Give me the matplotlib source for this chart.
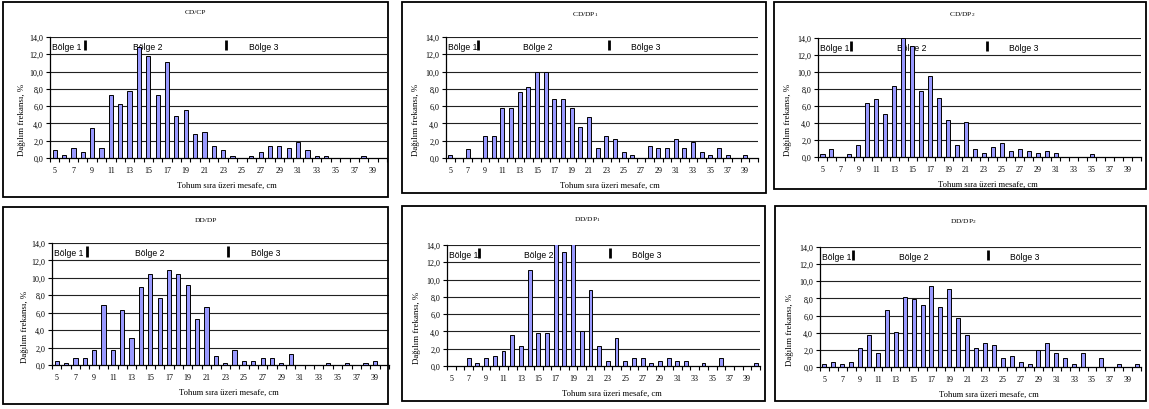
import matplotlib
matplotlib.use('Agg')
import matplotlib.pyplot as plt
from matplotlib.patches import Rectangle
from matplotlib.ticker import FixedLocator, FuncFormatter, NullFormatter

plt.rcParams['mathtext.fontset'] = 'custom'
plt.rcParams['mathtext.rm'] = 'Liberation Serif'
plt.rcParams['mathtext.it'] = 'Liberation Serif'

spacing_cm = list(range(5, 41))
tick_labels = [str(v) for v in range(5, 40, 2)]

cd_cp = [0.9, 0.4, 1.1, 0.7, 3.5, 1.1, 7.3, 6.3, 7.7, 12.9, 11.8, 7.3, 11.1, 4.9, 5.6, 2.8, 3.0, 1.4,
         0.9, 0.2, 0.0, 0.2, 0.7, 1.4, 1.4, 1.1, 1.8, 0.9, 0.2, 0.2, 0.0, 0.0, 0.0, 0.2, 0.0, 0.0]
cd_dp1 = [0.35, 0.0, 1.0, 0.0, 2.5, 2.5, 5.8, 5.8, 7.6, 8.2, 10.0, 10.0, 6.8, 6.8, 5.8, 3.6, 4.7, 1.1,
          2.5, 2.2, 0.75, 0.35, 0.0, 1.4, 1.1, 1.1, 2.2, 1.1, 1.8, 0.75, 0.35, 1.1, 0.35, 0.0, 0.35, 0.0]
cd_dp2 = [0.3, 1.0, 0.0, 0.3, 1.45, 6.3, 6.8, 5.1, 8.3, 14.0, 13.1, 7.8, 9.5, 7.0, 4.4, 1.45, 4.15, 1.0,
          0.5, 1.2, 1.7, 0.75, 1.0, 0.75, 0.5, 0.75, 0.5, 0.0, 0.0, 0.0, 0.3, 0.0, 0.0, 0.0, 0.0, 0.0]
dd_dp = [0.5, 0.2, 0.75, 0.75, 1.75, 6.9, 1.75, 6.35, 3.05, 8.9, 10.4, 7.65, 10.95, 10.4, 9.15, 5.3, 6.65, 1.0,
         0.2, 1.75, 0.5, 0.5, 0.75, 0.75, 0.2, 1.25, 0.0, 0.0, 0.0, 0.2, 0.0, 0.2, 0.0, 0.2, 0.5, 0.0]
dd_dp1 = [0.0, 0.0, 0.95, 0.3, 0.95, 1.2, 1.75, 3.55, 2.35, 11.15, 3.85, 3.85, 15.0, 13.2, 15.5, 4.05, 8.8, 2.35,
          0.6, 3.25, 0.6, 0.95, 0.95, 0.3, 0.6, 0.95, 0.6, 0.6, 0.0, 0.3, 0.0, 0.95, 0.0, 0.0, 0.0, 0.3]
dd_dp2 = [0.3, 0.6, 0.3, 0.6, 2.25, 3.7, 1.6, 6.65, 4.05, 8.2, 7.9, 7.25, 9.4, 6.95, 9.1, 5.7, 3.7, 2.25,
          2.8, 2.55, 1.0, 1.3, 0.6, 0.3, 1.95, 2.8, 1.6, 1.0, 0.3, 1.6, 0.0, 1.0, 0.0, 0.3, 0.0, 0.3]

titles = ['CD/CP', r'CD/DP$_{\mathregular{1}}$', r'CD/DP$_{\mathregular{2}}$',
          'DD/DP', r'DD/DP$_{\mathregular{1}}$', r'DD/DP$_{\mathregular{2}}$']
series = [cd_cp, cd_dp1, cd_dp2, dd_dp, dd_dp1, dd_dp2]
zone_labels = ['Bölge 1', 'Bölge 2', 'Bölge 3']
ylabel = 'Dağılım frekansı, %'
xlabel = 'Tohum sıra üzeri mesafe, cm'

W, H = 1149, 410
fig = plt.figure(figsize=(W / 100, H / 100), dpi=100)
fig.patch.set_facecolor('white')

# layout in pixels: box (x0, y0, x1, y1), axes (x0, ytop, x1, ybottom), title (x, y)
boxes = [(3, 3, 388, 198), (402, 3, 766, 194), (774, 3, 1146, 190),
         (3, 208, 388, 405), (402, 207, 765, 402), (775, 207, 1146, 402)]
axrects = [(50, 38, 387, 159), (446, 38, 758, 159), (818, 39, 1141, 158),
           (52, 244, 389, 366), (447, 246, 760, 367), (820, 248, 1141, 368)]
title_pos = [(195, 13), (585, 15), (962, 15), (206, 221), (587, 220), (963, 222)]
ylab_x = [22, 416, 788, 25, 417, 790]

serif = 'Liberation Serif'
sans = 'Liberation Sans'

def fx(x):
    return x / W

def fy(y):
    return 1 - y / H

for i in range(6):
    bx0, by0, bx1, by1 = boxes[i]
    fig.patches.append(Rectangle((fx(bx0), fy(by1)), fx(bx1 - bx0), (by1 - by0) / H,
                                 transform=fig.transFigure, fill=False, edgecolor='black',
                                 linewidth=1.3, zorder=0))
    ax0, ay0, ax1, ay1 = axrects[i]
    ax = fig.add_axes([fx(ax0), fy(ay1), fx(ax1 - ax0), (ay1 - ay0) / H])
    ax.set_facecolor('white')
    xs = list(range(len(spacing_cm)))
    ax.bar(xs, series[i], width=0.45, color='#9999FF', edgecolor='black', linewidth=0.7, zorder=3)
    ax.set_xlim(-0.5, len(spacing_cm) - 0.5)
    ax.set_ylim(0, 14)
    for g in range(2, 15, 2):
        ax.axhline(g, color='#222222', linewidth=0.8, zorder=1)
    for s in ['top', 'right']:
        ax.spines[s].set_visible(False)
    for s in ['left', 'bottom']:
        ax.spines[s].set_linewidth(0.9)
        ax.spines[s].set_zorder(4)
    ax.set_yticks(range(0, 15, 2))
    ax.yaxis.set_major_formatter(FuncFormatter(lambda v, p: f'{v:.1f}'.replace('.', ',')))
    ax.xaxis.set_major_locator(FixedLocator([v - 0.5 for v in range(len(spacing_cm) + 1)]))
    ax.xaxis.set_major_formatter(NullFormatter())
    ax.xaxis.set_minor_locator(FixedLocator(list(range(0, len(spacing_cm) - 1, 2))))
    ax.set_xticks(list(range(0, len(spacing_cm) - 1, 2)), minor=True)
    ax.set_xticklabels(tick_labels, minor=True)
    ax.tick_params(axis='x', which='major', direction='out', length=3, width=0.8)
    ax.tick_params(axis='x', which='minor', length=0, pad=6)
    ax.tick_params(axis='y', direction='out', length=3, width=0.8, pad=2)
    for lab in ax.get_yticklabels() + ax.get_xticklabels(minor=True):
        lab.set_fontfamily(serif)
        lab.set_fontsize(5.8)

    # zone annotation band
    ax.text(4.75 - 5, 12.9, zone_labels[0], fontfamily=sans, fontsize=6.2, va='center', ha='left', zorder=2)
    ax.text(13.35 - 5, 12.9, zone_labels[1], fontfamily=sans, fontsize=6.2, va='center', ha='left', zorder=2)
    ax.text(25.8 - 5, 12.9, zone_labels[2], fontfamily=sans, fontsize=6.2, va='center', ha='left', zorder=2)
    for mx in (8.2, 23.3):
        ax.plot([mx - 5, mx - 5], [12.45, 13.6], color='black', linewidth=2.0, solid_capstyle='butt', zorder=2)

    tx, ty = title_pos[i]
    fig.text(fx(tx), fy(ty), titles[i], fontfamily=serif, fontsize=5.4, ha='center', va='center')
    # x label
    fig.text(fx((ax0 + ax1) / 2 + 8), fy(ay1 + 27), xlabel, fontfamily=serif, fontsize=6.2,
             ha='center', va='center')
    # y label
    fig.text(fx(ylab_x[i]), fy(ay1 - 0.32 * (ay1 - ay0)), ylabel, fontfamily=serif, fontsize=6.4,
             ha='center', va='center', rotation=90)

fig.savefig('out.png', dpi=100, facecolor='white')
